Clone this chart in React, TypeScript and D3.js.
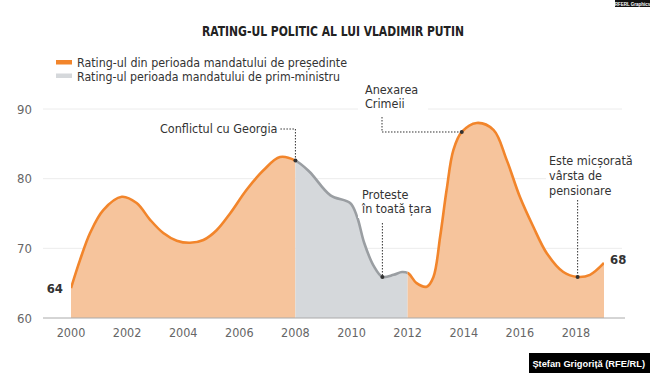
import * as d3 from 'd3'

const years = [2000, 2000.32, 2000.68, 2001.15, 2001.81, 2002.34, 2002.82, 2003.29, 2003.77, 2004.24, 2004.72, 2005.19, 2005.67, 2006.26, 2006.86, 2007.45, 2008, 2008.5, 2009.25, 2009.95, 2010.2, 2010.45, 2010.8, 2011.1, 2011.5, 2011.8, 2012.03, 2012.32, 2012.68, 2012.92, 2013.16, 2013.39, 2013.63, 2013.93, 2014.46, 2015.06, 2015.53, 2016.0, 2016.48, 2016.96, 2017.55, 2018.06, 2018.5, 2019]
const rating = [64.3, 68.3, 72.2, 75.5, 77.4, 76.5, 74.1, 72.2, 71.1, 70.8, 71.2, 72.6, 75.0, 78.4, 81.2, 83.1, 82.6, 81.0, 77.6, 76.5, 74.5, 70.8, 67.4, 65.9, 66.2, 66.6, 66.4, 65.0, 64.5, 65.9, 71.7, 78.4, 84.1, 86.7, 88.0, 87.0, 82.7, 77.4, 73.1, 69.3, 66.6, 65.9, 66.2, 67.9]

// mandates: [start, end, kind]
const mandates: [number, number, string][] = [
  [2000, 2008, 'pres'],
  [2008, 2012, 'pm'],
  [2012, 2019, 'pres'],
]

const xTicks = [2000, 2002, 2004, 2006, 2008, 2010, 2012, 2014, 2016, 2018]
const yTicks = [60, 70, 80, 90]

const legendLabels = ['Rating-ul din perioada mandatului de președinte', 'Rating-ul perioada mandatului de prim-ministru']

const events = [
  { year: 2008, value: 82.6, lines: ['Conflictul cu Georgia'] },
  { year: 2011.1, value: 65.9, lines: ['Proteste', 'în toată țara'] },
  { year: 2013.93, value: 86.7, lines: ['Anexarea', 'Crimeii'] },
  { year: 2018.06, value: 65.9, lines: ['Este micșorată', 'vârsta de', 'pensionare'] },
]

const W = 650
const H = 373
const FONT = '"DejaVu Sans Condensed", "Open Sans", sans-serif'
const ORANGE = '#f2852b'
const ORANGE_FILL = '#f6c49c'
const GREY = '#9a9ea2'
const GREY_FILL = '#d5d8db'
const INK = '#333'

export default function App() {
  const x = d3.scaleLinear().domain([2000, 2019]).range([71, 604])
  const y = d3.scaleLinear().domain([60, 90]).range([318, 109])
  const data = years.map((yr, i) => ({ yr, v: rating[i] }))

  const curve = d3.curveCatmullRom.alpha(0.5)
  const line = d3.line<{ yr: number; v: number }>()
    .x((d) => x(d.yr))
    .y((d) => y(d.v))
    .curve(curve)
  const area = d3.area<{ yr: number; v: number }>()
    .x((d) => x(d.yr))
    .y0(y(60))
    .y1((d) => y(d.v))
    .curve(curve)

  const gridX0 = 43
  const gridX1 = 622

  // where each annotation text and its leader sit
  const ev = events.map((e) => ({ ...e, px: x(e.year), py: y(e.value) }))
  const geo = ev[0], prot = ev[1], crim = ev[2], pens = ev[3]

  return (
    <svg width={W} height={H} style={{ position: 'absolute', left: 0, top: 0, background: '#fff' }} fontFamily={FONT}>
      <defs>
        {mandates.map((m, i) => (
          <clipPath id={`clip-${i}`} key={i}>
            <rect x={x(m[0])} y={0} width={x(m[1]) - x(m[0])} height={H} />
          </clipPath>
        ))}
      </defs>

      {/* top badge */}
      <rect x={615} y={0} width={35} height={7} fill="#111" />
      <text x={632.5} y={5.5} fontSize={4.5} fill="#fff" textAnchor="middle" fontFamily="Arial, sans-serif" fontWeight="bold">RFERL Graphics</text>

      <text x={333} y={36} textAnchor="middle" fontSize={14} fontWeight="bold" fill="#222"
        textLength={262} lengthAdjust="spacingAndGlyphs">RATING-UL POLITIC AL LUI VLADIMIR PUTIN</text>

      {/* legend */}
      {legendLabels.map((l, i) => (
        <g key={l} transform={`translate(56,${60 + i * 13.5})`}>
          <rect x={0} y={0} width={16} height={4.5} fill={i === 0 ? ORANGE : GREY_FILL} />
          <text x={21} y={7} fontSize={12} fill={INK} textLength={i === 0 ? 270 : 263} lengthAdjust="spacingAndGlyphs">{l}</text>
        </g>
      ))}

      {/* grid */}
      {yTicks.map((t) => (
        <g key={t}>
          {t > 60 && <line x1={gridX0} x2={gridX1} y1={y(t)} y2={y(t)} stroke="#ececec" />}
          <text x={32} y={y(t) + 4.5} textAnchor="end" fontSize={13} fill="#666">{t}</text>
        </g>
      ))}

      {/* areas + lines, clipped per mandate */}
      {mandates.map((m, i) => (
        <g key={i} clipPath={`url(#clip-${i})`}>
          <path d={area(data)!} fill={m[2] === 'pres' ? ORANGE_FILL : GREY_FILL} />
          <path d={line(data)!} fill="none" stroke={m[2] === 'pres' ? ORANGE : GREY} strokeWidth={2.6} strokeLinejoin="round" />
        </g>
      ))}

      <line x1={gridX0} x2={625} y1={y(60)} y2={y(60)} stroke="#aaa" />
      {xTicks.map((t) => (
        <text key={t} x={x(t)} y={337} textAnchor="middle" fontSize={12.5} fill="#666">{t}</text>
      ))}

      {/* end labels */}
      <text x={63} y={y(rating[0]) + 5} textAnchor="end" fontSize={13} fontWeight="bold" fill={INK}>{Math.round(rating[0])}</text>
      <text x={610} y={y(rating[rating.length - 1]) + 1} fontSize={13} fontWeight="bold" fill={INK}>{Math.round(rating[rating.length - 1])}</text>

      {/* annotations */}
      <g fontSize={12.5} fill={INK}>
        {/* Georgia */}
        <text x={geo.px - 18} y={133} textAnchor="end">{geo.lines[0]}</text>
        <polyline points={`${geo.px - 15},129 ${geo.px},129 ${geo.px},${geo.py}`} fill="none" stroke={INK} strokeDasharray="1.5,1.5" />

        {/* Crimea */}
        <rect x={358} y={78} width={70} height={35} fill="#fff" />
        {crim.lines.map((l, i) => (
          <text key={l} x={365} y={94 + i * 14}>{l}</text>
        ))}
        <polyline points={`382,117 382,${crim.py} ${crim.px},${crim.py}`} fill="none" stroke={INK} strokeDasharray="1.5,1.5" />

        {/* protests */}
        <rect x={358} y={186} width={80} height={32} fill="#fff" />
        {prot.lines.map((l, i) => (
          <text key={l} x={362} y={199 + i * 14}>{l}</text>
        ))}
        <line x1={prot.px} x2={prot.px} y1={223} y2={prot.py} stroke={INK} strokeDasharray="1.5,1.5" />

        {/* pensions */}
        <rect x={546} y={150} width={90} height={48} fill="#fff" />
        {pens.lines.map((l, i) => (
          <text key={l} x={549} y={165 + i * 15}>{l}</text>
        ))}
        <line x1={pens.px} x2={pens.px} y1={200} y2={pens.py} stroke={INK} strokeDasharray="1.5,1.5" />
      </g>

      {ev.map((e) => (
        <circle key={e.year} cx={e.px} cy={e.py} r={2} fill={INK} />
      ))}

      {/* credit */}
      <rect x={529} y={353} width={121} height={20} fill="#000" />
      <text x={645} y={367} textAnchor="end" fontSize={9.3} fontWeight="bold" fill="#fff" fontFamily="'Liberation Sans', Arial, sans-serif">Ștefan Grigoriță (RFE/RL)</text>
    </svg>
  )
}
